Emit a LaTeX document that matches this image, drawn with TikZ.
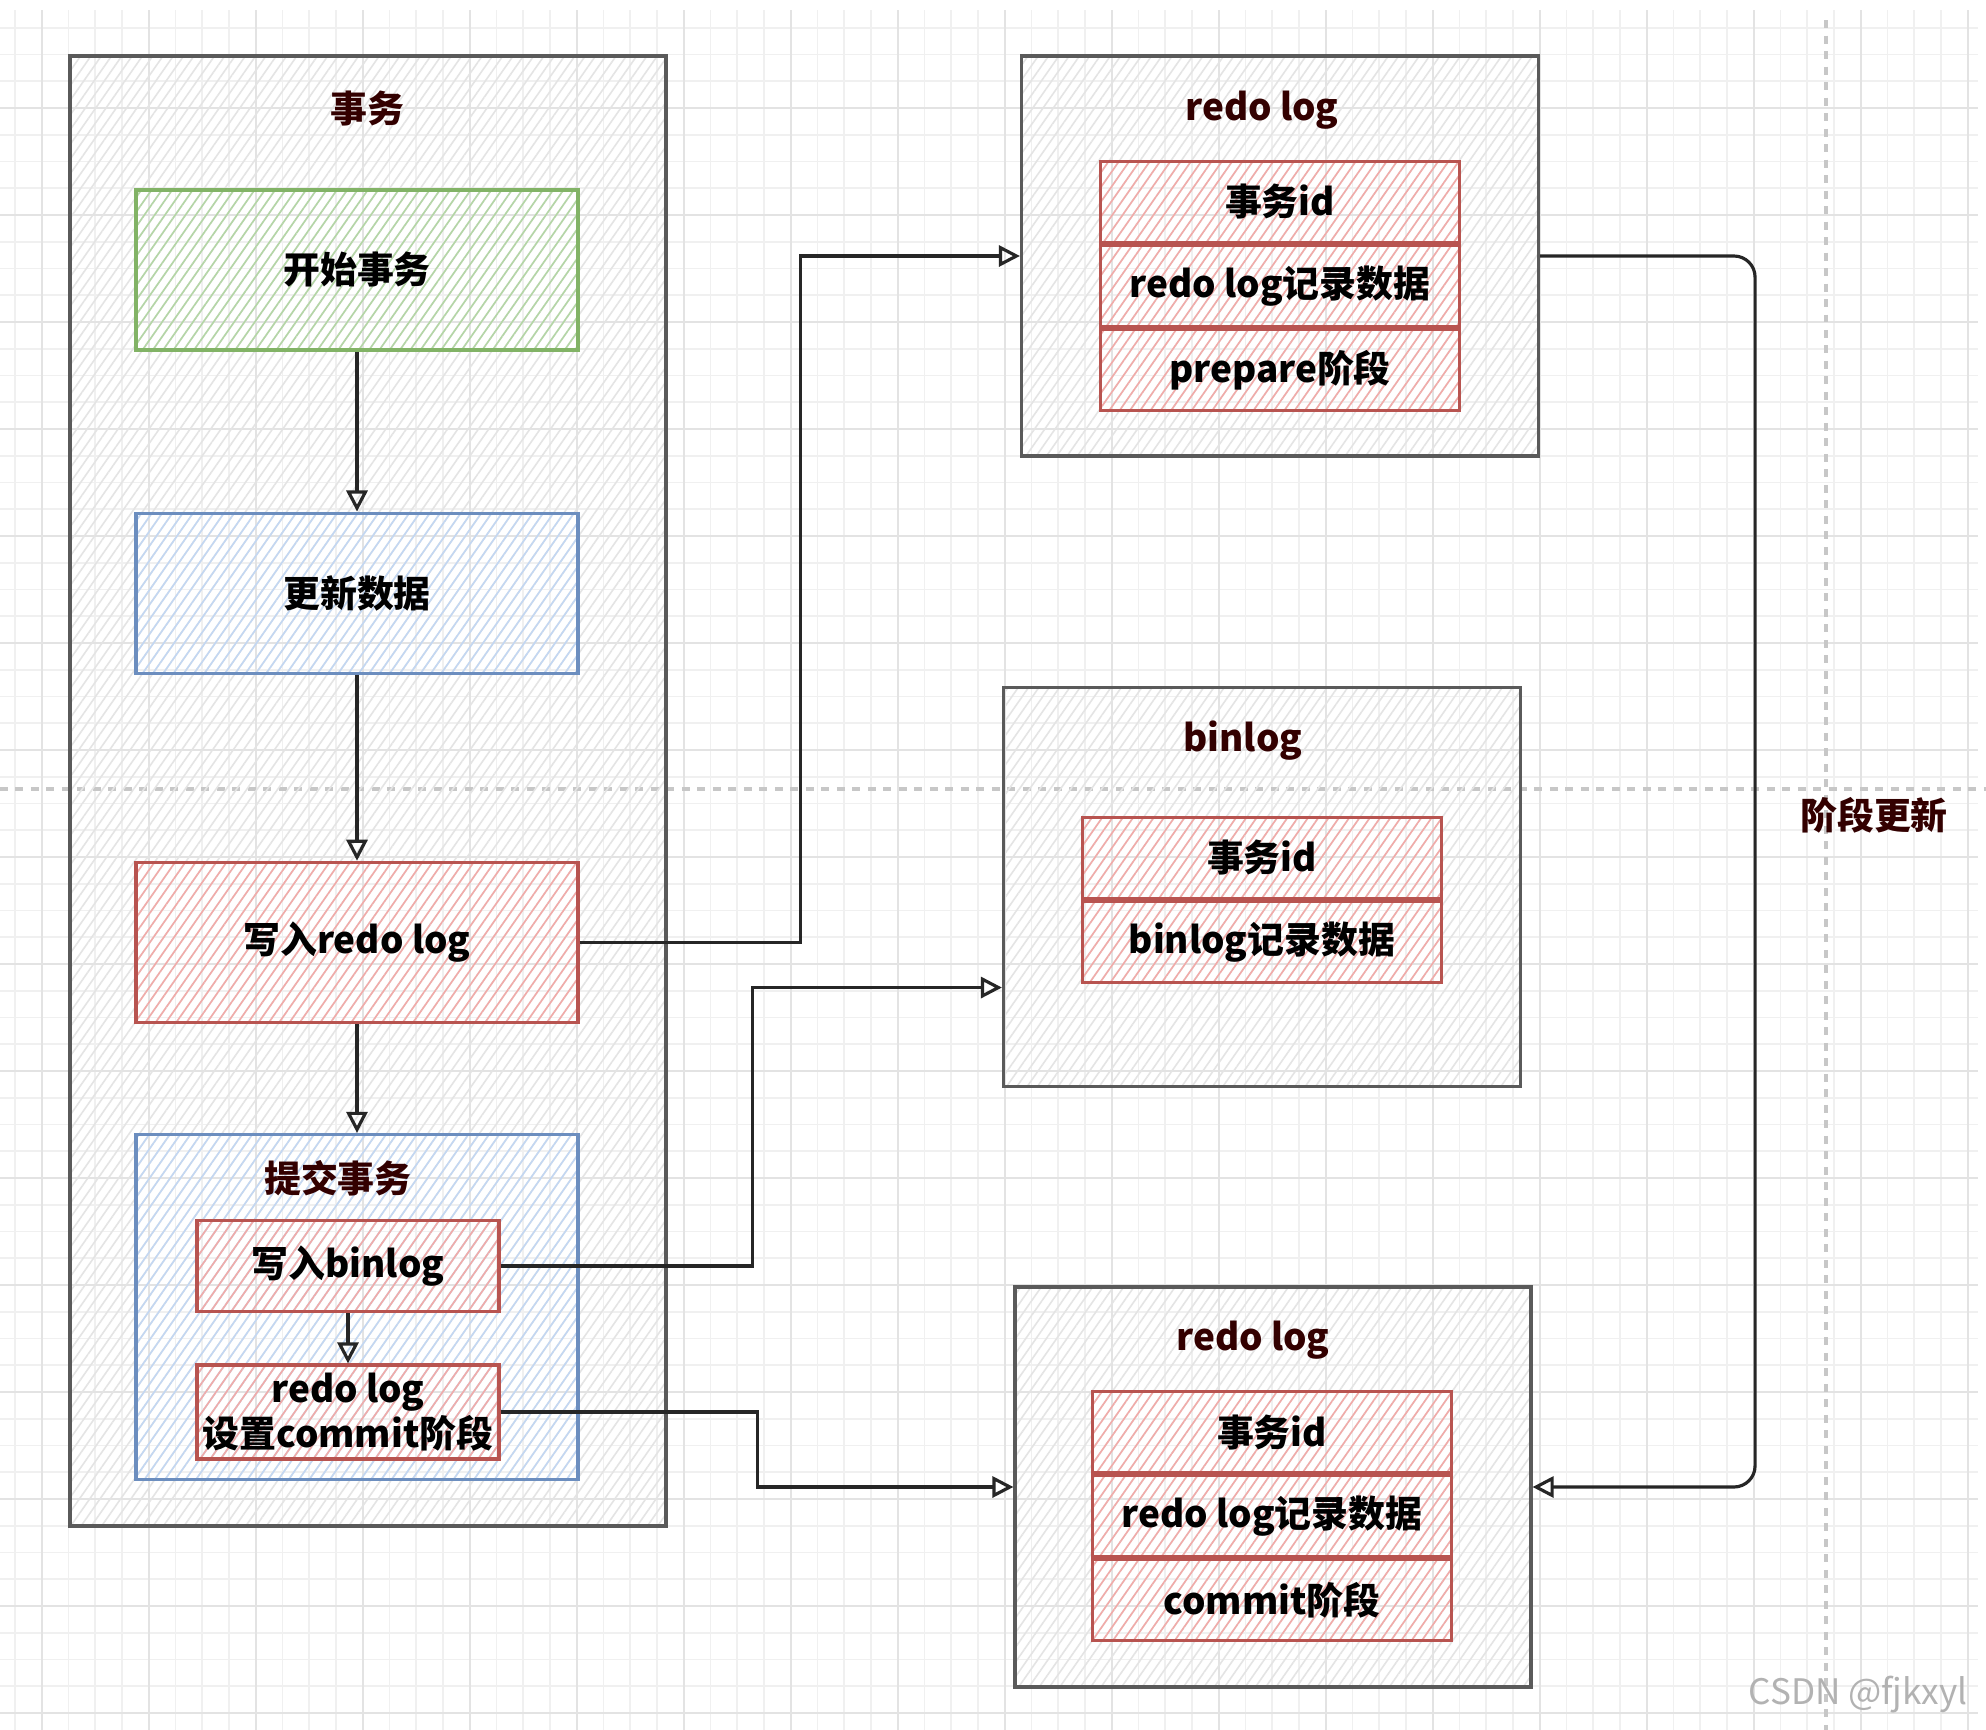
\documentclass[tikz,border=0pt]{standalone}
\usepackage{fontspec}
\setmainfont{Noto Sans CJK SC}
\usetikzlibrary{positioning,calc,arrows.meta,patterns.meta}
\definecolor{gline}{HTML}{82B366}
\definecolor{ghatch}{HTML}{B4D6A6}
\definecolor{bline}{HTML}{6C8EBF}
\definecolor{bhatch}{HTML}{C3D7F2}
\definecolor{rline}{HTML}{B85450}
\definecolor{rhatch}{HTML}{F1ABA9}
\definecolor{kline}{HTML}{5A5A5A}
\definecolor{khatch}{HTML}{E4E4E4}
\definecolor{ttlred}{HTML}{330000}
\newcommand{\ttl}[1]{\textcolor{ttlred}{#1}}
\newcommand{\hw}{0.45pt}

\begin{document}
\begin{tikzpicture}[x=0.1mm,y=-0.1mm,
  font=\fontsize{10.5}{13}\selectfont\bfseries,
  sz/.style 2 args={minimum width=#1mm,minimum height=#2mm},
  box/.style={draw=#1line,line width=0.9pt,inner sep=0pt,align=center,
    pattern={Lines[angle=55,distance=2.4pt,line width=\hw]},pattern color=#1hatch},
  row/.style={box=r,sz={35.9}{8.1}},
  conn/.style={draw=black!85,line width=0.9pt,-{Triangle[open,length=6pt,width=6pt]}},
  gridmin/.style={draw=black!6,line width=0.5pt},
  gridmaj/.style={draw=black!11,line width=0.6pt},
  pagebrk/.style={draw=black!22,line width=1.1pt,dash pattern=on 0.8mm off 0.75mm}]
\useasboundingbox[fill=white] (0,0) rectangle (1986,1730);
% grid
\foreach \gx in {15,41.75,...,1980} \draw[gridmin] (\gx,10) -- (\gx,1730);
\foreach \gy in {27.75,54.5,...,1730} \draw[gridmin] (0,\gy) -- (1978,\gy);
\foreach \gx in {41.75,148.75,...,1980} \draw[gridmaj] (\gx,10) -- (\gx,1730);
\foreach \gy in {108,215,...,1730} \draw[gridmaj] (0,\gy) -- (1978,\gy);
\draw[pagebrk] (0,789) -- (1986,789);
\draw[pagebrk] (1826,20) -- (1826,1730);
%
\node[box=k,sz={59.6}{147}]   (tx)      at (368,791)  {};
\node                          (txt)     at (367,109)  {\ttl{事务}};
\node[box=g,sz={44.2}{16}]    (start)   at (357,270)  {开始事务};
\node[box=b,sz={44.2}{16},below=16mm of start]   (upd)   {更新数据};
\node[box=r,sz={44.2}{16},below=18.6mm of upd]   (wredo) {写入redo log};
\node[box=b,sz={44.2}{34.5},below=10.9mm of wredo] (commit) {};
\node                          (committ) at (338,1178) {\ttl{提交事务}};
\node[box=r,sz={30.2}{9.1}]   (wbin)    at (348,1266) {写入binlog};
\node[box=r,sz={30.2}{9.4}]   (rcommit) at (348,1412) {redo log\\设置commit阶段};
%
\node[box=k,sz={51.7}{40}]    (redo1)   at (1280,256) {};
\node                          (redo1t)  at (1262,110) {\ttl{redo log}};
\node[row]                     (redo1a)  at (1280,202) {事务id};
\node[row,below=0pt of redo1a] (redo1b)  {redo log记录数据};
\node[row,below=0pt of redo1b] (redo1c)  {prepare阶段};
%
\node[box=k,sz={51.7}{39.9}]  (bin)     at (1262,887) {};
\node                          (bint)    at (1243,741) {\ttl{binlog}};
\node[row]                     (bina)    at (1262,858) {事务id};
\node[row,below=0pt of bina]   (binb)    {binlog记录数据};
%
\node[box=k,sz={51.6}{40}]    (redo2)   at (1273,1487) {};
\node                          (redo2t)  at (1253,1340) {\ttl{redo log}};
\node[row]                     (redo2a)  at (1272,1432) {事务id};
\node[row,below=0pt of redo2a] (redo2b)  {redo log记录数据};
\node[row,below=0pt of redo2b] (redo2c)  {commit阶段};
%
\node                          (phase)   at (1874,815) {\ttl{阶段更新}};
\node[text=black!30,font=\fontsize{10}{10}\selectfont] (wmark) at (1858,1695) {CSDN @fjkxyl};
%
\coordinate (binin) at ($(bin.south west)!0.25!(bin.north west)$);
\draw[conn] (start) -- (upd);
\draw[conn] (upd) -- (wredo);
\draw[conn] (wredo) -- (commit);
\draw[conn] (wbin) -- (rcommit);
\draw[conn] (wredo.east) -- ++(221,0) |- (redo1.west);
\draw[conn] (wbin.east) -- ++(252,0) |- (binin);
\draw[conn] (rcommit.east) -- ++(257,0) |- (redo2.west);
\draw[conn,rounded corners=6pt] (redo1.east) -- ++(215,0) |- (redo2.east);
\end{tikzpicture}
\end{document}
